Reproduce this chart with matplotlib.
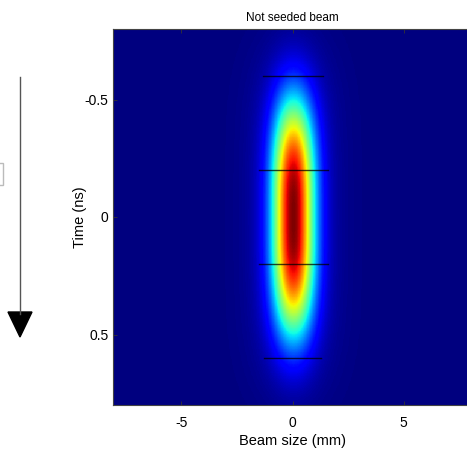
import numpy as np
import matplotlib
matplotlib.use("Agg")
import matplotlib.pyplot as plt
from matplotlib.patches import FancyArrow, Rectangle

plt.rcParams['font.family'] = ['Liberation Sans', 'DejaVu Sans']

# ---- data ----
title = "Not seeded beam"
xlabel = "Beam size (mm)"
ylabel = "Time (ns)"
x_ticks = [-5, 0, 5]
y_ticks = [-0.5, 0, 0.5]
x_range = (-8.1, 8.1)
t_range = (-0.8, 0.8)
# beam model parameters
sigma_x = 0.65        # mm, transverse gaussian width
t_width = 0.485       # ns, temporal super-gaussian width
t_power = 3.0         # temporal shape exponent
halo_amp = 0.07
halo_sigma_x = 1.3
halo_t_width = 0.72
# slice markers (time, x start, x end)
slice_t = [-0.6, -0.2, 0.2, 0.6]
slice_x0 = [-1.35, -1.5, -1.5, -1.3]
slice_x1 = [1.35, 1.6, 1.6, 1.3]

# ---- figure ----
W, H = 467, 449
fig = plt.figure(figsize=(W / 100, H / 100), dpi=100)
left, right, top, bottom = 112.5, 472.6, 29, 405
ax = fig.add_axes([left / W, 1 - bottom / H, (right - left) / W, (bottom - top) / H])

x = np.linspace(x_range[0], x_range[1], 600)
t = np.linspace(t_range[0], t_range[1], 500)
X, T = np.meshgrid(x, t)
I = np.exp(-X**2 / (2 * sigma_x**2)) * np.exp(-(np.abs(T) / t_width) ** t_power)
I += halo_amp * np.exp(-X**2 / (2 * halo_sigma_x**2)) * np.exp(-(np.abs(T) / halo_t_width) ** 4)
I = I / I.max()

ax.imshow(I, cmap='jet', vmin=0, vmax=1, aspect='auto', origin='upper',
          extent=[x_range[0], x_range[1], t_range[1], t_range[0]], interpolation='nearest')

for tt, a, b in zip(slice_t, slice_x0, slice_x1):
    ax.plot([a, b], [tt, tt], color='black', lw=1.0, alpha=0.75)

ax.set_xlim(*x_range)
ax.set_ylim(t_range[1], t_range[0])
ax.set_xticks(x_ticks)
ax.set_xticklabels([str(v) for v in x_ticks])
ax.set_yticks(y_ticks)
ax.set_yticklabels(["-0.5", "0", "0.5"])
ax.tick_params(direction='in', length=3, width=0.6, colors='#333333', labelcolor='black',
               labelsize=10, top=True, right=True)
ax.tick_params(axis='x', pad=8)
ax.tick_params(axis='y', pad=3)
ax.set_xlabel(xlabel, fontsize=10.5, labelpad=3)
ax.set_ylabel(ylabel, fontsize=10.5)
ax.yaxis.set_label_coords((87 - left) / (right - left), 0.5)
ax.set_title(title, fontsize=8.5, pad=6)
for s in ax.spines.values():
    s.set_color('#444444')
    s.set_linewidth(0.8)

# arrow on the left
fig.add_artist(plt.Line2D([20 / W, 20 / W], [1 - 77 / H, 1 - 314 / H], color='#555555', lw=1.0))
arr = FancyArrow(20 / W, 1 - 312 / H, 0, -(337 - 312) / H, width=0, head_width=24 / W,
                 head_length=(337 - 312) / H, length_includes_head=True,
                 color='black', transform=fig.transFigure)
fig.add_artist(arr)
fig.add_artist(Rectangle((-3 / W, 1 - 185 / H), 5.5 / W, 22 / H, transform=fig.transFigure,
                         fill=False, edgecolor='#bbbbbb', lw=1.0))

fig.savefig("out.png", dpi=100)
